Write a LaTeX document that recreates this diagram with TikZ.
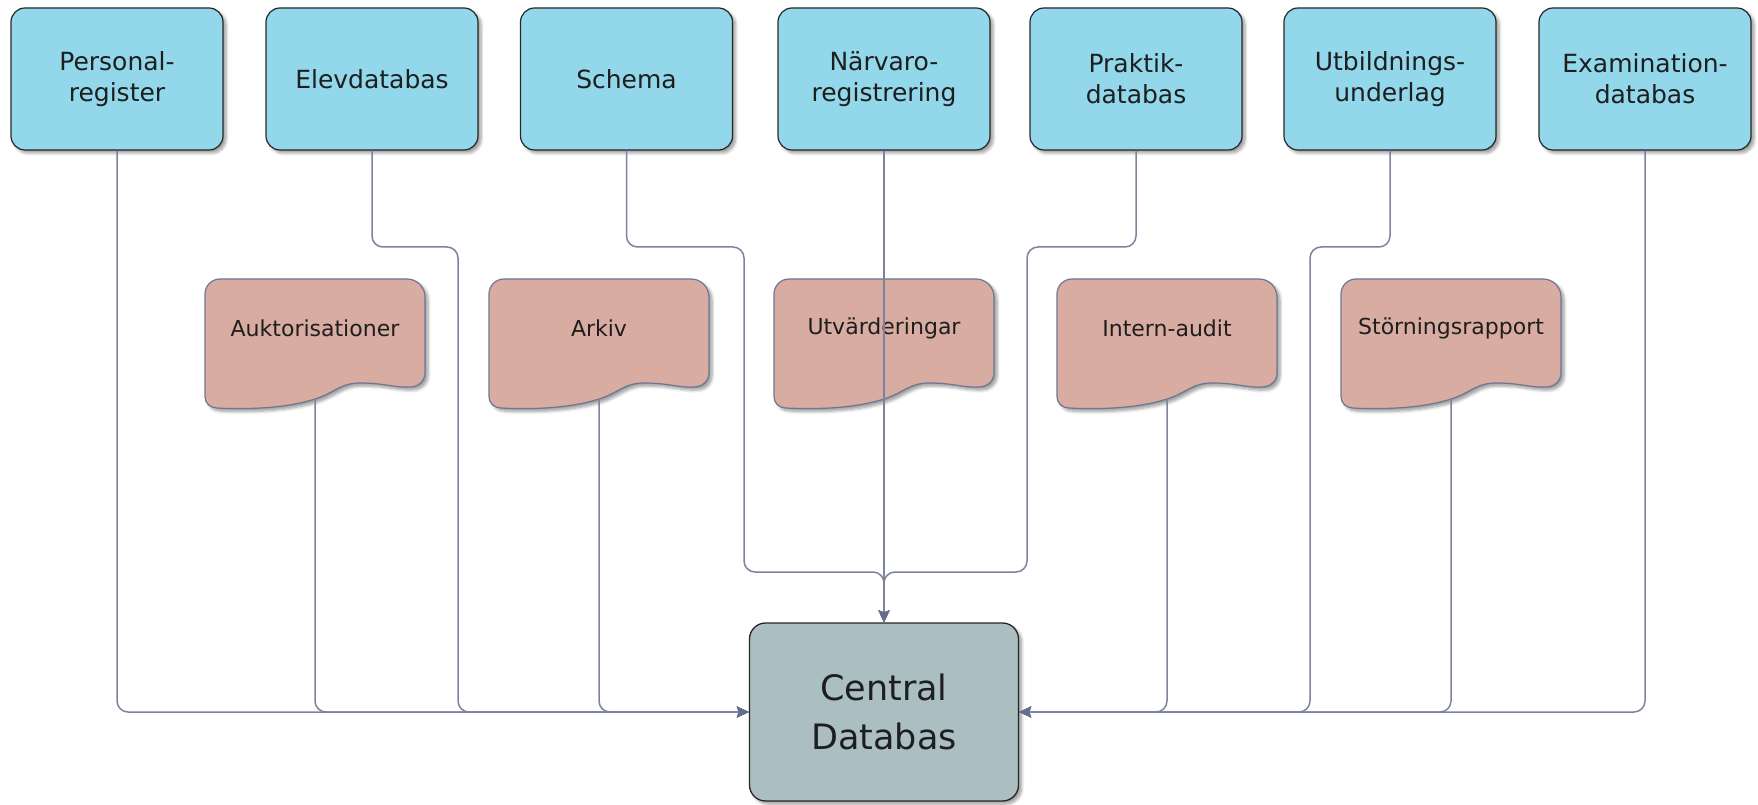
\documentclass[tikz,border=0pt]{standalone}
\usepackage{fontspec}
\setmainfont{DejaVu Sans}
\usetikzlibrary{arrows.meta,shadows.blur}
\definecolor{topfill}{HTML}{92D7EA}
\definecolor{docfill}{HTML}{D8ACA1}
\definecolor{cenfill}{HTML}{ABBFC2}
\definecolor{docline}{HTML}{6E7694}
\definecolor{conline}{HTML}{7D829F}
\definecolor{arrcol}{HTML}{666C8C}
\definecolor{txt}{HTML}{1E1E1E}
\tikzset{
  myshadow/.style={blur shadow={shadow xshift=3pt,shadow yshift=-3pt,shadow blur steps=6,shadow opacity=40,shadow blur radius=3pt}},
  topbox/.style={draw=black!85,line width=1.2pt,fill=topfill,rounded corners=14pt,
    minimum width=212pt,minimum height=142pt,align=center,text=txt,
    font=\fontsize{25pt}{31pt}\selectfont,myshadow},
  cenbox/.style={draw=black!85,line width=1.3pt,fill=cenfill,rounded corners=16pt,
    minimum width=269pt,minimum height=178pt,align=center,text=txt,
    font=\fontsize{35pt}{49pt}\selectfont,myshadow},
  docshape/.style={draw=docline,line width=1.2pt,fill=docfill,myshadow},
  doctext/.style={text=txt,font=\fontsize{22pt}{26pt}\selectfont},
  conn/.style={draw=conline,line width=1.5pt,rounded corners=11pt,
    -{Stealth[length=12pt,width=11pt,inset=2pt,color=arrcol]}},
}
\newcommand{\mydoc}[3]{%
  \begin{scope}[shift={(#1,525)}]
    \path[docshape] (-110,-15) -- (-110,-118) to[out=-90,in=180] (-98,-129)
      .. controls (-60,-131) and (-25,-128) .. (0,-120)
      .. controls (20,-113.6) and (25,-104) .. (45,-104)
      .. controls (70,-104) and (80,-109) .. (95,-108)
      to[out=0,in=-90] (110,-94) -- (110,-18)
      arc[start angle=0,end angle=90,radius=18] -- (-95,0)
      arc[start angle=90,end angle=180,radius=15] -- cycle;
    \node[doctext] (#2) at (0,-49) {#3};
    \coordinate (#2-b) at (0,-120);
  \end{scope}}
\begin{document}
\begin{tikzpicture}[x=1pt,y=1pt]
\useasboundingbox (0,0) rectangle (1758,804);
% top boxes
\node[topbox] (per) at (117,725) {Personal-\\register};
\node[topbox] (elev) at (372,725) {Elevdatabas};
\node[topbox] (sch) at (626.5,725) {Schema};
\node[topbox] (nar) at (884,725) {Närvaro-\\registrering};
\node[topbox] (pra) at (1136,725) {Praktik-\\databas};
\node[topbox] (utb) at (1390,725) {Utbildnings-\\underlag};
\node[topbox] (exa) at (1645,725) {Examination-\\databas};
% documents
\mydoc{315}{auk}{Auktorisationer}
\mydoc{599}{ark}{Arkiv}
\mydoc{884}{utv}{Utvärderingar}
\mydoc{1167}{int}{Intern-audit}
\mydoc{1451}{sto}{Störningsrapport}
% central
\node[cenbox] (cen) at (884,92) {Central\\Databas};
% connectors left
\draw[conn] (per.south) |- (cen.west);
\draw[conn] (auk-b) |- (cen.west);
\draw[conn] (elev.south) -- (372,557) -- (458,557) |- (cen.west);
\draw[conn] (ark-b) |- (cen.west);
% connectors top
\draw[conn] (sch.south) -- (626.5,557) -- (744,557) -- (744,232) -- (884,232) -- (cen.north);
\draw[conn] (pra.south) -- (1136,557) -- (1027,557) -- (1027,232) -- (884,232) -- (cen.north);
\draw[conn] (utv-b) -- (cen.north);
\draw[conn] (nar.south) -- (cen.north);
% connectors right
\draw[conn] (int-b) |- (cen.east);
\draw[conn] (utb.south) -- (1390,557) -- (1310,557) |- (cen.east);
\draw[conn] (sto-b) |- (cen.east);
\draw[conn] (exa.south) |- (cen.east);
\end{tikzpicture}
\end{document}
